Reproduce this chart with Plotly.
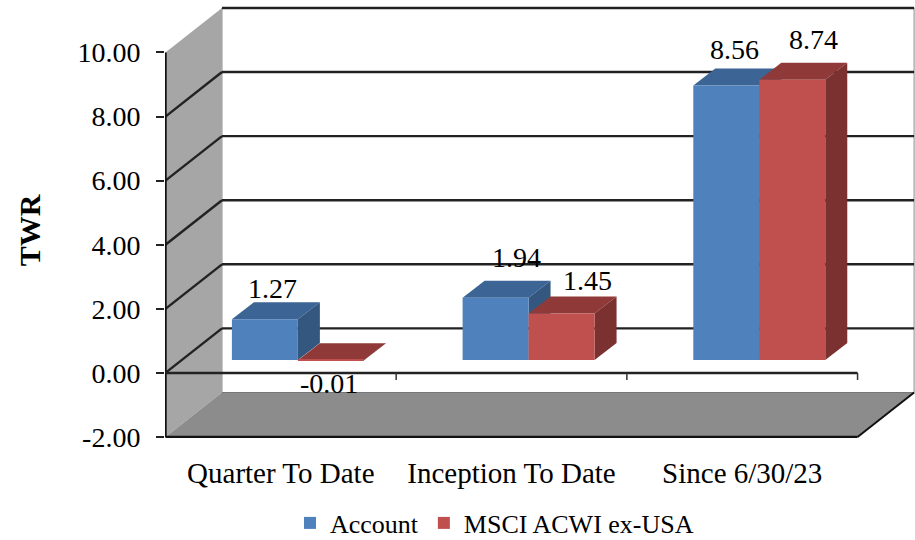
import plotly.graph_objects as go

categories = ["Quarter To Date", "Inception To Date", "Since 6/30/23"]
account = [1.27, 1.94, 8.56]
msci = [-0.01, 1.45, 8.74]
y_ticks = [-2, 0, 2, 4, 6, 8, 10]
series_names = ["Account", "MSCI ACWI ex-USA"]

FONT = "Liberation Serif"
WALL_DX, WALL_DY = 0.245, 1.389      # depth of the 3-D box, axis units
BAR_DX, BAR_DY = 0.0954, 0.531       # depth of a bar
BAR_BASE = 0.406                     # bars stand part-way into the box
BAR_W = 0.286
OFFS = [-0.212, 0.074]
FRONT = ["#4f81bd", "#c0504d"]
TOP = ["#3c6494", "#8f3a38"]
SIDE = ["#34577f", "#7b312f"]
GRID = "#222222"


def poly(points, fill, line=None, width=0):
    d = "M" + "L".join(f"{x:.4f},{y:.4f}" for x, y in points) + "Z"
    return dict(type="path", path=d, xref="x", yref="y", fillcolor=fill, layer="below",
                line=dict(color=line or fill, width=width))


def seg(x0, y0, x1, y1, width=2.4, color=GRID):
    return dict(type="line", x0=x0, y0=y0, x1=x1, y1=y1, xref="x", yref="y", layer="below",
                line=dict(color=color, width=width))


X0, X1 = -0.5, 2.5
Y0, Y1 = y_ticks[0], y_ticks[-1]
shapes = [
    poly([(X0 + WALL_DX, Y0 + WALL_DY), (X1 + WALL_DX, Y0 + WALL_DY), (X1 + WALL_DX, Y1 + WALL_DY), (X0 + WALL_DX, Y1 + WALL_DY)],
         "#ffffff", "#8a8a8a", 1),
    poly([(X0, Y0), (X0 + WALL_DX, Y0 + WALL_DY), (X0 + WALL_DX, Y1 + WALL_DY), (X0, Y1)], "#a6a6a6"),
    poly([(X0, Y0), (X1, Y0), (X1 + WALL_DX, Y0 + WALL_DY), (X0 + WALL_DX, Y0 + WALL_DY)], "#8c8c8c"),
]
for t in y_ticks[1:]:
    shapes.append(seg(X0 + WALL_DX, t + WALL_DY, X1 + WALL_DX, t + WALL_DY))
    if t != Y1:
        shapes.append(seg(X0, t, X0 + WALL_DX, t + WALL_DY))
shapes.append(seg(X0 + WALL_DX, Y0 + WALL_DY, X1 + WALL_DX, Y0 + WALL_DY, 1, "#777777"))
shapes.append(seg(X0, Y0, X1, Y0, 2.5, "#111111"))
shapes.append(seg(X1, Y0, X1 + WALL_DX, Y0 + WALL_DY, 2, "#111111"))
shapes.append(seg(X0, Y0, X0, Y1, 2.5, "#111111"))
shapes.append(seg(X0, 0, X1, 0, 2.5, "#222222"))
for i in range(len(categories)):
    shapes.append(seg(i + 0.5, 0, i + 0.5, -0.22, 1.5, "#333333"))

for s, values in enumerate([account, msci]):
    for i, v in enumerate(values):
        xl = i + OFFS[s]
        xr = xl + BAR_W
        ytop = BAR_BASE + v
        shapes.append(poly([(xl, ytop), (xl + BAR_DX, ytop + BAR_DY), (xr + BAR_DX, ytop + BAR_DY), (xr, ytop)], TOP[s]))
        shapes.append(poly([(xr, BAR_BASE), (xr + BAR_DX, BAR_BASE + BAR_DY), (xr + BAR_DX, ytop + BAR_DY), (xr, ytop)], SIDE[s]))

fig = go.Figure()
for s, values in enumerate([account, msci]):
    fig.add_trace(go.Bar(
        x=categories, y=values, base=BAR_BASE, name=series_names[s], width=BAR_W, offset=OFFS[s],
        marker=dict(color=FRONT[s], line=dict(width=0)),
    ))

label_shift = [[(-8, 44), (5, 53.5), (-8, 49.4)], [(48, -10), (76, 46), (71, 53.7)]]
annotations = []
for s, values in enumerate([account, msci]):
    for i, v in enumerate(values):
        dx, dy = label_shift[s][i]
        annotations.append(dict(
            x=i, y=v, xref="x", yref="y", text=f"{v:.2f}", showarrow=False,
            xshift=dx, yshift=dy, xanchor="center", yanchor="middle",
            font=dict(family=FONT, size=28, color="#000000"),
        ))
annotations.append(dict(
    x=0, y=4.45, xref="paper", yref="y", xshift=-136, text="<b>TWR</b>", textangle=-90, showarrow=False,
    xanchor="center", yanchor="middle", font=dict(family=FONT, size=30, color="#000000"),
))

fig.update_layout(
    width=915, height=540, autosize=False,
    paper_bgcolor="#ffffff", plot_bgcolor="#ffffff",
    margin=dict(l=165, r=0, t=6, b=102, pad=0),
    barmode="overlay",
    shapes=shapes, annotations=annotations,
    font=dict(family=FONT, size=26, color="#000000"),
    xaxis=dict(
        type="category", categoryorder="array", categoryarray=categories,
        range=[-0.502, 2.749], showgrid=False, zeroline=False, showline=False, ticks="",
        tickfont=dict(family=FONT, size=29), ticklabelstandoff=15,
    ),
    yaxis=dict(
        range=[-2.031, 11.45], tickvals=y_ticks, ticktext=[f"{t:.2f}" for t in y_ticks],
        showgrid=False, zeroline=False,
        showline=False, ticks="outside", ticklen=8, tickwidth=2, tickcolor="#222222",
        tickfont=dict(family=FONT, size=28), ticklabelstandoff=10,
    ),
    legend=dict(
        orientation="h", xref="container", yref="container", x=290 / 915, y=1 - 523 / 540,
        xanchor="left", yanchor="middle",
        bgcolor="rgba(0,0,0,0)", font=dict(family=FONT, size=26), itemclick=False, itemdoubleclick=False,
    ),
)

fig.write_html("out.html", config={"displayModeBar": False}, post_script="document.body.style.margin='0';")
